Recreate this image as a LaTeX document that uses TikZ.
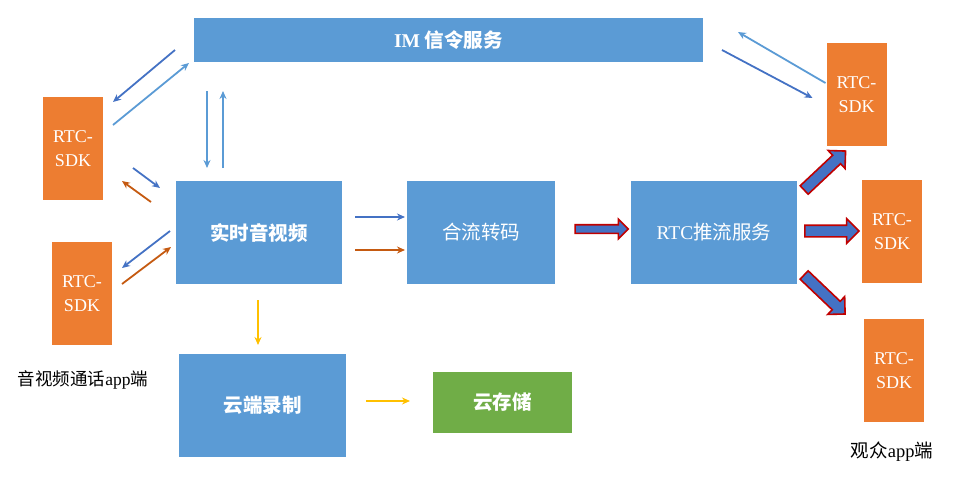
\documentclass[tikz,border=0pt]{standalone}
\usepackage{fontspec}
\setmainfont{Liberation Serif}
\newfontfamily\cjk{Noto Sans CJK SC}
\usepackage{tikz}
\usetikzlibrary{arrows.meta, positioning, calc, shapes.arrows}
\definecolor{boxblue}{RGB}{91,155,213}
\definecolor{sdkorange}{RGB}{237,125,49}
\definecolor{storegreen}{RGB}{112,173,71}
\definecolor{linkblue}{RGB}{68,114,196}
\definecolor{linkorange}{RGB}{197,90,17}
\definecolor{linkyellow}{RGB}{255,192,0}
\definecolor{borderred}{RGB}{192,0,0}

% thick block arrow between two points
\newcommand{\pusharrow}[3]{%
  \path let \p1=(#1), \p2=(#2), \n1={atan2(\y2-\y1,\x2-\x1)},
    \n2={veclen(\x2-\x1,\y2-\y1)} in
    ($(\p1)!0.5!(\p2)$) node[bigarrow, #3, rotate=\n1, minimum height=\n2] {};}

\begin{document}
\begin{tikzpicture}[
    x=1pt, y=-1pt,
    service/.style={rectangle, fill=boxblue, inner sep=0pt, outer sep=0pt,
                 text=white, align=center, font=\fontsize{19.5}{23}\selectfont},
    sdk/.style={rectangle, fill=sdkorange, inner sep=0pt, outer sep=0pt,
                 minimum width=60pt, minimum height=103pt, text=white, align=center,
                 font=\fontsize{18}{24}\selectfont},
    link/.style={-{Stealth[length=8pt, width=7pt]}, line width=1.8pt},
    bigarrow/.style={single arrow, draw=borderred, fill=linkblue, line width=1.6pt,
                 inner sep=4pt, single arrow head extend=5pt}
]
    \useasboundingbox (0,0) rectangle (972,485);

    \node[service, minimum width=509pt, minimum height=44pt] (im) at (448.5,40) {\bfseries IM {\cjk 信令服务}};
    \node[service, minimum width=166pt, minimum height=103pt] (live) at (259,232.5) {\cjk\bfseries 实时音视频};
    \node[service, minimum width=148pt, minimum height=103pt] (mix) at (481,232.5) {\cjk 合流转码};
    \node[service, minimum width=166pt, minimum height=103pt] (push) at (714,232.5) {RTC{\cjk 推流服务}};
    \node[service, minimum width=167pt, minimum height=103pt] (rec) at (262.5,405.5) {\cjk\bfseries 云端录制};
    \node[service, fill=storegreen, minimum width=139pt, minimum height=61pt] (store) at (502.5,402.5) {\cjk\bfseries 云存储};

    \node[sdk] (sdkA) at (73,148.5) {RTC-\\SDK};
    \node[sdk] (sdkB) at (82,293.5) {RTC-\\SDK};
    \node[sdk] (sdkC) at (856.5,94.5) {RTC-\\SDK};
    \node[sdk] (sdkD) at (892,231.5) {RTC-\\SDK};
    \node[sdk] (sdkE) at (894,370.5) {RTC-\\SDK};

    \node[font=\fontsize{17.5}{20}\selectfont] (callers) at (83,380) {{\cjk 音视频通话}app{\cjk 端}};
    \node[font=\fontsize{18.5}{20}\selectfont] (viewers) at (892,452) {{\cjk 观众}app{\cjk 端}};

    % signalling
    \draw[link, linkblue] ($(im.west)+(-19,10)$) -- ($(sdkA.north east)+(10,5)$);
    \draw[link, boxblue] ($(sdkA.north east)+(10,28)$) -- ($(im.south west)+(-5,1)$);
    \draw[link, boxblue] ($(im.south west)+(13,29)$) -- ($(live.north west)+(31,-13)$);
    \draw[link, boxblue] ($(live.north west)+(47,-13)$) -- ($(im.south west)+(29,29)$);
    \draw[link, linkblue] ($(im.east)+(19,10)$) -- ($(sdkC.west)+(-14,3.5)$);
    \draw[link, boxblue] ($(sdkC.west)+(-1,-11.5)$) -- ($(im.east)+(35,-8)$);

    % media
    \draw[link, linkblue] ($(sdkA.east)+(30,19.5)$) -- ($(live.north west)+(-16,7)$);
    \draw[link, linkorange] ($(live.north west)+(-25,21)$) -- ($(sdkA.south east)+(19,-19)$);
    \draw[link, linkblue] ($(live.west)+(-6,-1.5)$) -- ($(sdkB.north east)+(10,26)$);
    \draw[link, linkorange] ($(sdkB.north east)+(10,42)$) -- ($(live.west)+(-5,14.5)$);
    \draw[link, linkblue] ($(live.east)+(13,-15.5)$) -- ($(mix.west)+(-2,-15.5)$);
    \draw[link, linkorange] ($(live.east)+(13,17.5)$) -- ($(mix.west)+(-2,17.5)$);

    % recording
    \draw[link, linkyellow] ($(live.south)+(-1,16)$) -- ($(rec.north)+(-4.5,-9)$);
    \draw[link, linkyellow] ($(rec.east)+(20,-4.5)$) -- ($(store.west)+(-23,-1.5)$);

    % push streams
    \pusharrow{$(mix.east)+(18,-3.5)$}{$(push.west)+(-5,-3.5)$}{inner sep=3.5pt, single arrow head extend=5.5pt}
    \pusharrow{$(push.north east)+(5,11)$}{$(sdkC.south west)+(17,7)$}{inner sep=5pt, single arrow head extend=6.5pt}
    \pusharrow{$(push.east)+(5,-1.5)$}{$(sdkD.west)+(-6,-0.5)$}{inner sep=5pt, single arrow head extend=6.5pt}
    \pusharrow{$(push.south east)+(5,-11)$}{$(sdkE.north west)+(-21,-7)$}{inner sep=5pt, single arrow head extend=6.5pt}
\end{tikzpicture}
\end{document}
